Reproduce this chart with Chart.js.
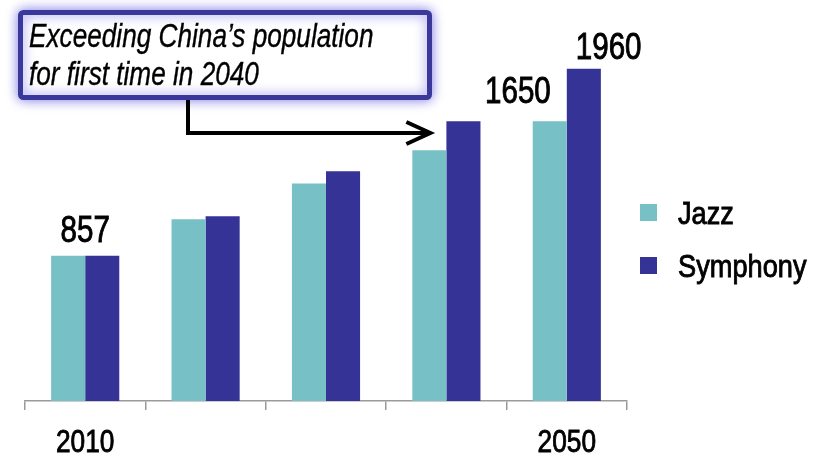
<!DOCTYPE html>
<html>
<head>
<meta charset="utf-8">
<script src="https://cdn.jsdelivr.net/npm/chart.js@4/dist/chart.umd.min.js"></script>
<style>
  html, body { margin: 0; padding: 0; background: #fff; }
  canvas { display: block; }
</style>
</head>
<body>
<canvas id="chart" width="830" height="458"></canvas>
<script>
const years = ['2010', '2020', '2030', '2040', '2050'];
const jazz = [857, 1072, 1283, 1479, 1650];
const symphony = [857, 1090, 1355, 1650, 1960];
const seriesNames = ['Jazz', 'Symphony'];
const colors = ['#76C0C6', '#363396'];
const shownYears = ['2010', '2050'];
const note = ['Exceeding China\u2019s population', 'for first time in 2040'];

// no narrow face installed, so Liberation Sans gets squeezed like Arial Narrow
const FONT = "'Liberation Sans', Arial, sans-serif";

function narrowText(ctx, text, x, y, align, font, squeeze, weight) {
  ctx.save();
  ctx.font = font;
  ctx.textAlign = align;
  ctx.textBaseline = 'alphabetic';
  ctx.translate(x, y);
  ctx.scale(squeeze || 0.82, 1);
  ctx.fillText(text, 0, 0);
  // a thin outline to get closer to the heavier original strokes
  ctx.lineWidth = weight == null ? 0.9 : weight;
  ctx.strokeStyle = ctx.fillStyle;
  if (ctx.lineWidth > 0) ctx.strokeText(text, 0, 0);
  ctx.restore();
}

/**
 * value labels, year labels, legend and the callout box
 */
const extras = {
  id: 'extras',
  afterDatasetsDraw(chart) {
    const ctx = chart.ctx;
    const jz = chart.getDatasetMeta(0).data;
    const sy = chart.getDatasetMeta(1).data;
    const xs = chart.scales.x;
    const last = years.length - 1;

    ctx.save();
    ctx.fillStyle = '#000';

    // value labels
    const big = '36px ' + FONT;
    narrowText(ctx, String(chart.data.datasets[0].data[0]), (jz[0].x + sy[0].x) / 2, jz[0].y - 14, 'center', big);
    narrowText(ctx, String(chart.data.datasets[0].data[last]), jz[last].x + 1, jz[last].y - 18, 'right', big);
    narrowText(ctx, String(chart.data.datasets[1].data[last]), sy[last].x - 8, sy[last].y - 10, 'left', big);

    // year labels under the axis
    years.forEach((y, i) => {
      if (shownYears.includes(y)) {
        narrowText(ctx, y, xs.getPixelForTick(i), 452, 'center', '32px ' + FONT);
      }
    });

    // legend
    chart.data.datasets.forEach((ds, i) => {
      const cy = 212.5 + i * 53;
      ctx.fillStyle = ds.backgroundColor;
      ctx.fillRect(640, cy - 8.5, 17, 17);
      ctx.fillStyle = '#000';
      narrowText(ctx, ds.label, 678, cy + 11, 'left', '32px ' + FONT, 0.85);
    });

    // callout box with glow
    ctx.save();
    ctx.shadowColor = 'rgba(110, 105, 225, 0.8)';
    ctx.shadowBlur = 12;
    ctx.fillStyle = '#fff';
    ctx.strokeStyle = '#3A389A';
    ctx.lineWidth = 5;
    ctx.beginPath();
    ctx.roundRect(20.5, 12.5, 409, 85, 3);
    ctx.fill();
    ctx.stroke();
    ctx.restore();

    ctx.fillStyle = '#000';
    narrowText(ctx, note[0], 29, 47, 'left', 'italic 34px ' + FONT, 0.77, 0.4);
    narrowText(ctx, note[1], 29, 85, 'left', 'italic 34px ' + FONT, 0.77, 0.4);

    // elbow arrow pointing at the 2040 bars
    const tipX = jz[3].x + 1;
    ctx.strokeStyle = '#000';
    ctx.lineWidth = 4;
    ctx.lineJoin = 'miter';
    ctx.beginPath();
    ctx.moveTo(188, 100);
    ctx.lineTo(188, 133);
    ctx.lineTo(tipX - 2, 133);
    ctx.stroke();
    ctx.beginPath();
    ctx.moveTo(tipX - 24, 122);
    ctx.lineTo(tipX, 133);
    ctx.lineTo(tipX - 24, 144);
    ctx.stroke();
    ctx.restore();
  }
};

const chart = new Chart(document.getElementById('chart').getContext('2d'), {
  type: 'bar',
  data: {
    labels: years,
    datasets: [{
      label: seriesNames[0],
      data: jazz,
      backgroundColor: colors[0],
      categoryPercentage: 0.566,
      barPercentage: 1
    }, {
      label: seriesNames[1],
      data: symphony,
      backgroundColor: colors[1],
      categoryPercentage: 0.566,
      barPercentage: 1
    }]
  },
  options: {
    responsive: false,
    devicePixelRatio: 1,
    animation: false,
    layout: { padding: { left: 25, right: 203, top: 11, bottom: 0 } },
    plugins: {
      legend: { display: false },
      tooltip: { enabled: false }
    },
    scales: {
      y: {
        display: false,
        min: 0,
        max: 2300
      },
      x: {
        afterFit(scale) { scale.height = 57; },
        grid: {
          offset: true,
          drawOnChartArea: false,
          drawTicks: true,
          tickLength: 9,
          color: '#9a9a9a',
          lineWidth: 1.5
        },
        border: { display: true, color: '#9a9a9a', width: 1.5 },
        ticks: {
          // drawn by the plugin so they can be squeezed
          color: 'rgba(0,0,0,0)',
          font: { size: 12 },
          maxRotation: 0,
          autoSkip: false
        }
      }
    }
  },
  plugins: [extras]
});
</script>
</body>
</html>
